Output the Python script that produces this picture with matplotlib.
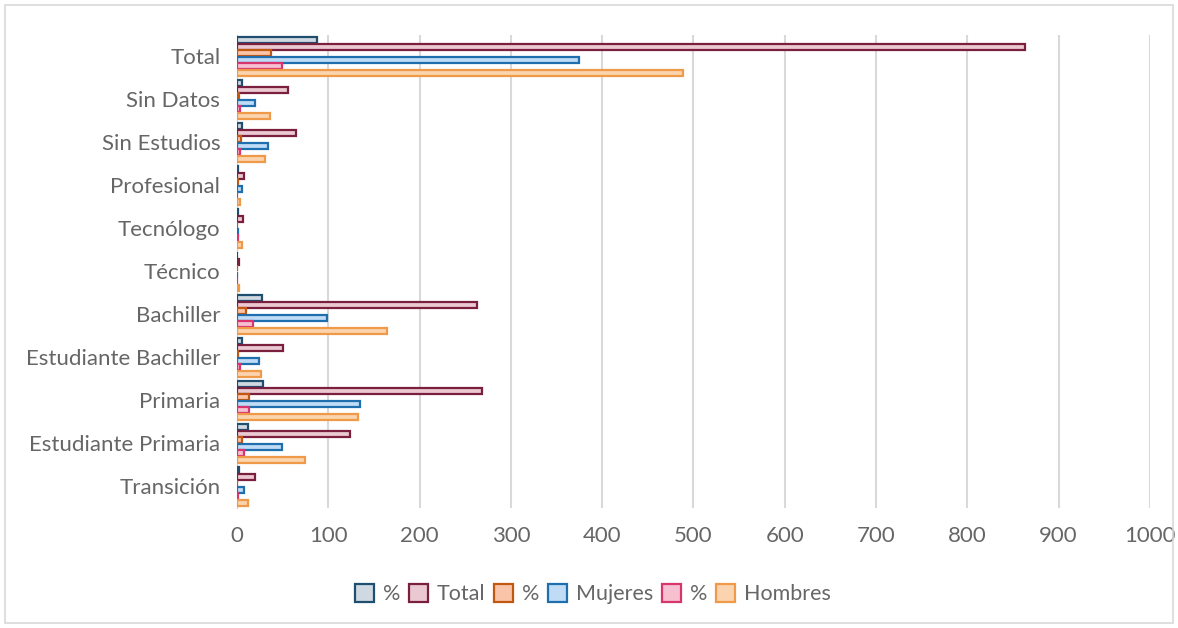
import numpy as np
import matplotlib
matplotlib.use("Agg")
import matplotlib.pyplot as plt
import matplotlib.patheffects as pe
from matplotlib.patches import Rectangle

plt.rcParams['font.family'] = ['Lato', 'DejaVu Sans']

# categories, bottom to top
categories = ["Transición", "Estudiante Primaria", "Primaria", "Estudiante Bachiller",
              "Bachiller", "Técnico", "Tecnólogo", "Profesional", "Sin Estudios",
              "Sin Datos", "Total"]

pct_total = [2, 12, 28, 5, 27, 0.3, 1, 1, 6, 5.5, 88]
total = [20, 124, 268, 50, 263, 2, 7, 8, 65, 56, 863]
pct_mujeres = [0.5, 5, 13, 1, 10, 0.1, 0.2, 1, 4, 2, 37]
mujeres = [8, 49, 135, 24, 99, 0, 1, 5, 34, 20, 375]
pct_hombres = [1, 8, 13, 3, 17, 0.2, 1, 0.5, 3, 3, 49]
hombres = [12, 75, 133, 26, 164, 2, 6, 3, 31, 36, 488]

series = [("%", pct_total), ("Total", total), ("%", pct_mujeres),
          ("Mujeres", mujeres), ("%", pct_hombres), ("Hombres", hombres)]
edges = ["#1F4E6E", "#7B1F3F", "#C0580F", "#1F6FAE", "#D8356F", "#EE9A48"]
fills = ["#D0D9E2", "#EBC9D3", "#F9C4A8", "#BFDBF5", "#F7C0D1", "#FBD3AE"]

fig = plt.figure(figsize=(11.78, 6.28), dpi=100)
ax = fig.add_axes([0.2012, 0.1911, 0.775, 0.7532])

y = np.arange(len(categories))
h = 0.15
shadow = [pe.SimplePatchShadow(offset=(1.5, -1.5), alpha=0.25), pe.Normal()]
for j, (name, vals) in enumerate(series):
    off = (2.5 - j) * h
    ax.barh(y + off, vals, height=h * 0.95, color=fills[j], edgecolor=edges[j],
            linewidth=1.6, label=name, path_effects=shadow, zorder=3)

ax.set_xlim(0, 1000)
ax.set_ylim(-0.5, len(categories) - 0.5)
ax.set_xticks(np.arange(0, 1001, 100))
ax.set_yticks(y)
ax.set_yticklabels(categories)
ax.grid(axis='x', color='#D9D9D9', linewidth=1.5, zorder=0)
for s in ['top', 'right', 'bottom']:
    ax.spines[s].set_visible(False)
ax.spines['left'].set_color('#D0D0D0')
ax.tick_params(axis='both', length=0, labelsize=16, colors='#666666')
ax.tick_params(axis='x', pad=13)
ax.tick_params(axis='y', pad=12)

handles, labels = ax.get_legend_handles_labels()
for hd in handles:
    for p in hd.patches:
        p.set_path_effects([])
leg = fig.legend(handles, labels, loc='center', bbox_to_anchor=(0.503, 0.054), ncol=6,
                 frameon=False, fontsize=15.5, handlelength=0.9, handleheight=0.9,
                 handletextpad=0.4, columnspacing=0.4, labelcolor='#666666')

fig.patches.append(Rectangle((0.004, 0.008), 0.992, 0.984, transform=fig.transFigure,
                             fill=False, edgecolor='#D9D9D9', linewidth=1.2))

fig.savefig("out.png", dpi=100)
